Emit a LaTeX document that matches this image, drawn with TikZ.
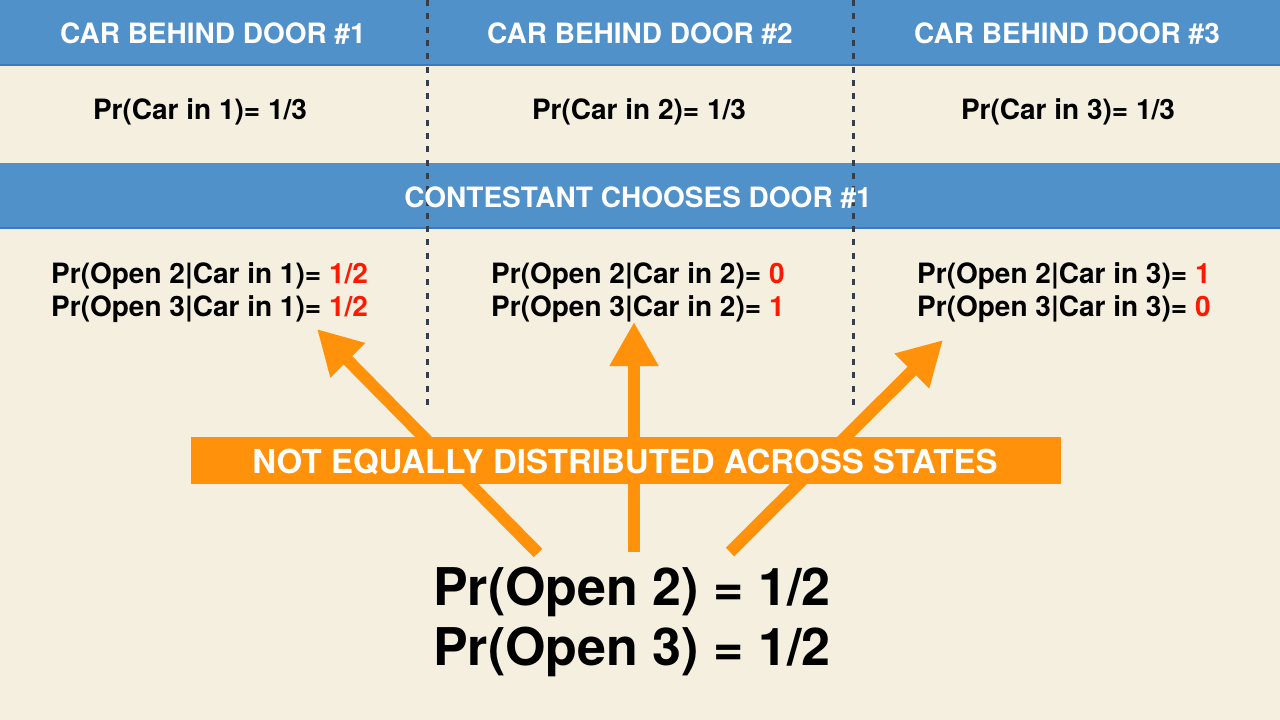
\documentclass[tikz,border=0pt]{standalone}
\usepackage{fontspec}
\setmainfont{TeX Gyre Heros}
\usetikzlibrary{arrows.meta}
\definecolor{bg}{RGB}{245,239,224}
\definecolor{band}{RGB}{80,145,202}
\definecolor{bandedge}{RGB}{62,122,186}
\definecolor{orng}{RGB}{255,146,10}
\definecolor{rd}{RGB}{255,25,0}
\definecolor{dashc}{RGB}{55,62,75}
\begin{document}
\begin{tikzpicture}[x=1pt,y=-1pt,
  hdr/.style={font=\fontsize{28}{30}\selectfont\bfseries, text=white, inner sep=0pt, anchor=base},
  body/.style={font=\fontsize{28}{32}\selectfont\bfseries, text=black, inner sep=0pt},
  big/.style={font=\fontsize{52}{60}\selectfont\bfseries, text=black, inner sep=0pt, anchor=base},
  banner/.style={font=\fontsize{33}{36}\selectfont\bfseries, text=white, inner sep=0pt, anchor=base},
  divider/.style={draw=dashc, line width=3pt, dash pattern=on 6pt off 7.3pt},
  bigarrow/.style={draw=orng, line width=12pt, -{Triangle[length=44pt,width=46pt]}},
  val/.style={text=rd}
]
\useasboundingbox (0,0) rectangle (1280,720);
\fill[bg] (0,0) rectangle (1280,720);
% bands
\fill[band] (0,0) rectangle (1280,66);
\draw[bandedge, line width=1.5pt] (0,65) -- (1280,65);
\fill[band] (0,163) rectangle (1280,229);
\draw[bandedge, line width=1.5pt] (0,228) -- (1280,228);
% dividers
\coordinate (d1t) at (427,0); \coordinate (d1b) at (427,410);
\coordinate (d2t) at (853,0); \coordinate (d2b) at (853,410);
\draw[divider] (d1t) -- (d1b);
\draw[divider] (d2t) -- (d2b);
% headers
\node[hdr] (h1) at (213,43) {CAR BEHIND DOOR \#1};
\node[hdr] (h2) at (640,43) {CAR BEHIND DOOR \#2};
\node[hdr] (h3) at (1067,43) {CAR BEHIND DOOR \#3};
\node[hdr] (ch) at (638,207) {CONTESTANT CHOOSES DOOR \#1};
% priors
\node[body, anchor=base] (p1) at (200,119) {Pr(Car in 1)= 1/3};
\node[body, anchor=base] (p2) at (639,119) {Pr(Car in 2)= 1/3};
\node[body, anchor=base] (p3) at (1068,119) {Pr(Car in 3)= 1/3};
% likelihoods
\node[body, anchor=base west] (l12) at (51,283) {Pr(Open 2\textbar Car in 1)= \textcolor{rd}{1/2}};
\node[body, anchor=base west] (l13) at (51,316) {Pr(Open 3\textbar Car in 1)= \textcolor{rd}{1/2}};
\node[body, anchor=base west] (l22) at (491,283) {Pr(Open 2\textbar Car in 2)= \textcolor{rd}{0}};
\node[body, anchor=base west] (l23) at (491,316) {Pr(Open 3\textbar Car in 2)= \textcolor{rd}{1}};
\node[body, anchor=base west] (l32) at (917,283) {Pr(Open 2\textbar Car in 3)= \textcolor{rd}{1}};
\node[body, anchor=base west] (l33) at (917,316) {Pr(Open 3\textbar Car in 3)= \textcolor{rd}{0}};
% arrows
\coordinate (a1s) at (538,553); \coordinate (a1e) at (317,329);
\coordinate (a2s) at (634,552); \coordinate (a2e) at (634,322);
\coordinate (a3s) at (730,552); \coordinate (a3e) at (943,340);
\draw[bigarrow] (a1s) -- (a1e);
\draw[bigarrow] (a2s) -- (a2e);
\draw[bigarrow] (a3s) -- (a3e);
% banner
\fill[orng] (191,437) rectangle (1061,484);
\node[banner] (bn) at (625,473) {NOT EQUALLY DISTRIBUTED ACROSS STATES};
% marginals
\node[big] (m2) at (632,605) {Pr(Open 2) = 1/2};
\node[big] (m3) at (632,665) {Pr(Open 3) = 1/2};
\end{tikzpicture}
\end{document}
